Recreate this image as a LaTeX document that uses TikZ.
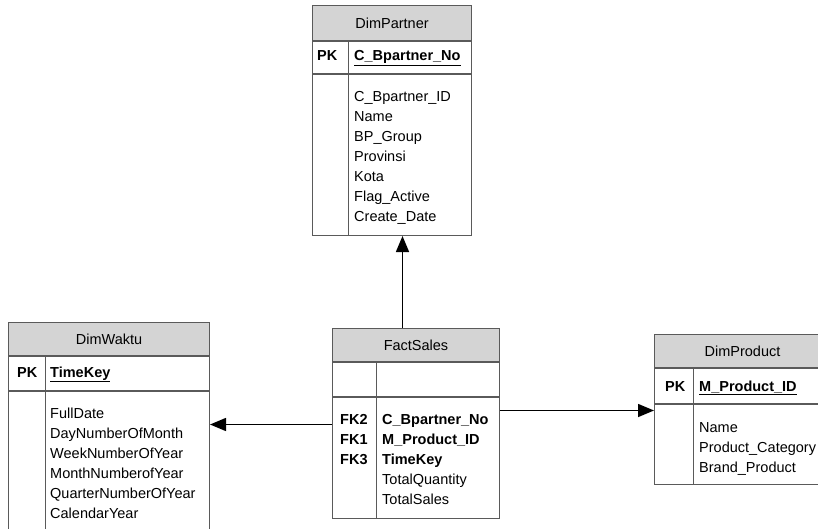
\documentclass[tikz,border=0pt]{standalone}
\usepackage{fontspec}
\setmainfont{Liberation Sans}
\usepackage{tikz}
\usetikzlibrary{arrows.meta,positioning}
\definecolor{tblgray}{RGB}{212,212,212}
\definecolor{tblline}{RGB}{90,90,90}
\newcommand{\tblfont}{\fontsize{14.5}{20}\selectfont}
\tikzset{
  tblhead/.style = {draw=tblline, line width=1pt, fill=tblgray, anchor=north west, inner sep=0pt},
  tblrow/.style  = {draw=tblline, line width=1pt, anchor=north west, inner sep=0pt},
  tbldiv/.style  = {tblline, line width=1pt},
  fieldtxt/.style = {anchor=base west, inner sep=0pt, font=\tblfont},
  keytxt/.style  = {fieldtxt, font=\tblfont\bfseries},
  fklink/.style  = {black, line width=1.5pt, -{Triangle[length=16pt,width=13pt]}},
}

\begin{document}
\begin{tikzpicture}[x=1pt,y=-1pt,font=\tblfont]
  \useasboundingbox (0,0) rectangle (818,529);

  % DimPartner
  \node[tblhead, minimum width=159pt, minimum height=35pt] (partner) at (312,5) {DimPartner};
  \node[tblrow, minimum width=159pt, minimum height=32pt] (partnerkey) at (partner.south west) {};
  \node[tblrow, minimum width=159pt, minimum height=161pt] (partnerbody) at (partnerkey.south west) {};
  \draw[tbldiv] ([xshift=36pt]partnerkey.north west) -- ([xshift=36pt]partnerbody.south west);
  \node[keytxt] (partnerpk) at (317,61) {PK};
  \node[keytxt] (partnerid) at (354,61) {\underline{C\_Bpartner\_No}};
  \foreach \f [count=\i] in {C\_Bpartner\_ID, Name, BP\_Group, Provinsi, Kota, Flag\_Active, Create\_Date}
    \node[fieldtxt] (partnerf\i) at (354,82+20*\i) {\f};

  % DimWaktu
  \node[tblhead, minimum width=201pt, minimum height=33pt] (waktu) at (8,322) {DimWaktu};
  \node[tblrow, minimum width=201pt, minimum height=34pt] (waktukey) at (waktu.south west) {};
  \node[tblrow, minimum width=201pt, minimum height=141pt] (waktubody) at (waktukey.south west) {};
  \draw[tbldiv] ([xshift=37pt]waktukey.north west) -- ([xshift=37pt]waktubody.south west);
  \node[keytxt] (waktupk) at (17,377) {PK};
  \node[keytxt] (waktuid) at (50,377) {\underline{TimeKey}};
  \foreach \f [count=\i] in {FullDate, DayNumberOfMonth, WeekNumberOfYear, MonthNumberofYear, QuarterNumberOfYear, CalendarYear}
    \node[fieldtxt] (waktuf\i) at (50,398+20*\i) {\f};

  % FactSales
  \node[tblhead, minimum width=167pt, minimum height=33pt] (fact) at (332,328) {FactSales};
  \node[tblrow, minimum width=167pt, minimum height=34pt] (factkey) at (fact.south west) {};
  \node[tblrow, minimum width=167pt, minimum height=121pt] (factbody) at (factkey.south west) {};
  \draw[tbldiv] ([xshift=44pt]factkey.north west) -- ([xshift=44pt]factbody.south west);
  \node[keytxt] (factfk2) at (340,424) {FK2};
  \node[keytxt] (factfk1) at (340,444) {FK1};
  \node[keytxt] (factfk3) at (340,464) {FK3};
  \node[keytxt] (factf1) at (382,424) {C\_Bpartner\_No};
  \node[keytxt] (factf2) at (382,444) {M\_Product\_ID};
  \node[keytxt] (factf3) at (382,464) {TimeKey};
  \node[fieldtxt] (factf4) at (382,484) {TotalQuantity};
  \node[fieldtxt] (factf5) at (382,504) {TotalSales};

  % DimProduct
  \node[tblhead, minimum width=176pt, minimum height=33pt] (product) at (654,334) {DimProduct};
  \node[tblrow, minimum width=176pt, minimum height=35pt] (productkey) at (product.south west) {};
  \node[tblrow, minimum width=176pt, minimum height=80pt] (productbody) at (productkey.south west) {};
  \draw[tbldiv] ([xshift=39pt]productkey.north west) -- ([xshift=39pt]productbody.south west);
  \node[keytxt] (productpk) at (665,391) {PK};
  \node[keytxt] (productid) at (699,391) {\underline{M\_Product\_ID}};
  \foreach \f [count=\i] in {Name, Product\_Category, Brand\_Product}
    \node[fieldtxt] (productf\i) at (699,412+20*\i) {\f};

  % links from the fact table
  \coordinate (uplink) at ([xshift=-13.5pt]fact.north);
  \coordinate (leftlink) at ([yshift=33.5pt]factbody.west);
  \coordinate (rightlink) at ([yshift=47.5pt]factbody.east);
  \path (uplink) edge[fklink] (uplink |- partnerbody.south);
  \path (leftlink) edge[fklink] (leftlink -| waktubody.east);
  \path (rightlink) edge[fklink] (rightlink -| productbody.west);
\end{tikzpicture}
\end{document}
